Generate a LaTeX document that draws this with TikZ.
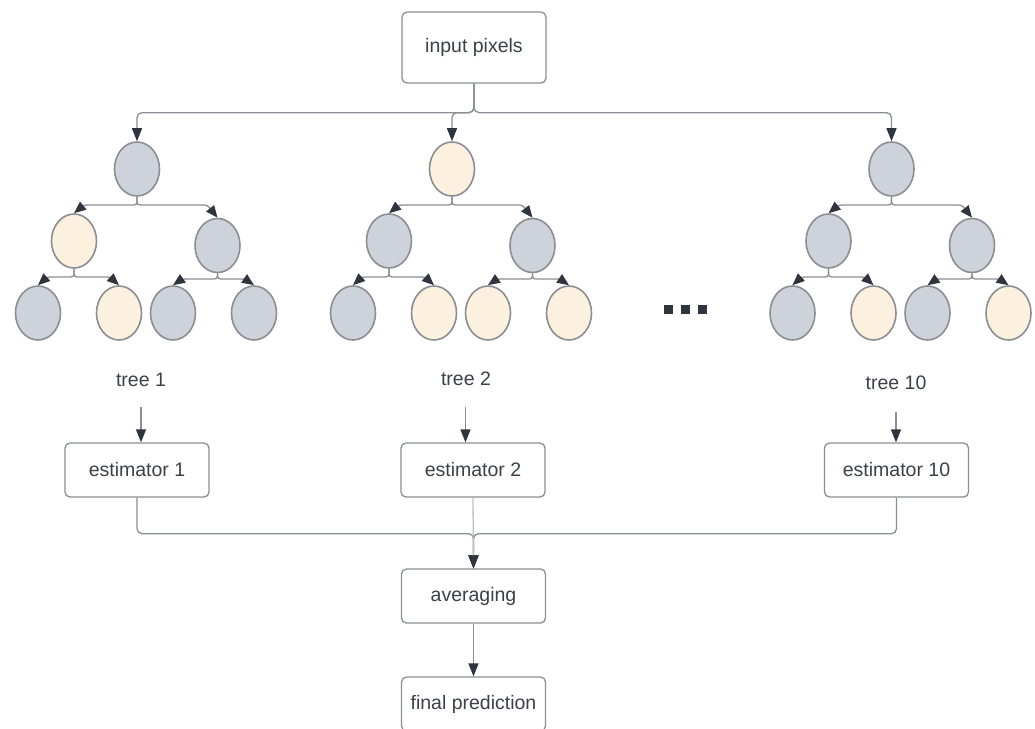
\documentclass[tikz,border=0pt]{standalone}
\usepackage{fontspec}
\setmainfont{Liberation Sans}
\usetikzlibrary{arrows.meta,shapes.geometric,calc}
\definecolor{gfill}{HTML}{CED3DB}
\definecolor{cfill}{HTML}{FCF1DE}
\definecolor{strk}{HTML}{8B8E93}
\definecolor{txt}{HTML}{3C4048}
\definecolor{tipc}{HTML}{2F353F}
\definecolor{light}{HTML}{BFC2C6}
\tikzset{
  leaf/.style={ellipse,draw=strk,line width=1.6pt,minimum width=45pt,minimum height=54pt,inner sep=0pt},
  box/.style={draw=strk,line width=1.3pt,rounded corners=5pt,fill=white,minimum width=144pt,minimum height=54pt,inner sep=0pt,text=txt,font=\fontsize{19.5}{22}\selectfont},
  lbl/.style={text=txt,font=\fontsize{19.5}{22}\selectfont,inner sep=0pt},
  arr/.style={draw=strk,line width=1.3pt,rounded corners=5pt,-{Triangle[length=13pt,width=10pt,color=tipc]}},
  tarr/.style={draw=strk,line width=1.3pt,rounded corners=3pt,-{Triangle[length=12pt,width=10pt,color=tipc]}},
  dot/.style={fill=tipc,minimum size=9pt,inner sep=0pt}
}
\newcommand\mytree[9]{%
  \node[leaf,fill=#3] (#1r) at (#2,169) {};
  \node[leaf,fill=#4] (#1a) at ({#2-63},241) {};
  \node[leaf,fill=#5] (#1b) at ({#2+80.5},245.5) {};
  \node[leaf,fill=#6] (#1c) at ({#2-99},313) {};
  \node[leaf,fill=#7] (#1d) at ({#2-18},313) {};
  \node[leaf,fill=#8] (#1e) at ({#2+36},313) {};
  \node[leaf,fill=#9] (#1f) at ({#2+117},313) {};
  \draw[tarr] (#1r.south) |- ({#2-63+10},205) -- (#1a.north);
  \draw[tarr] (#1r.south) |- ({#2+80.5-10},205) -- (#1b.north);
  \draw[tarr] (#1a.south) |- ({#2-99+9},277) -- (#1c.north);
  \draw[tarr] (#1a.south) |- ({#2-18-9},277) -- (#1d.north);
  \draw[tarr] (#1b.south) |- ({#2+36+9},279) -- (#1e.north);
  \draw[tarr] (#1b.south) |- ({#2+117-9},279) -- (#1f.north);
}
\begin{document}
\begin{tikzpicture}[x=1pt,y=-1pt]
\useasboundingbox (0,0) rectangle (1035,728);
\node[box,minimum height=71pt] (inp) at (474,47.5) {input pixels};
\mytree{ta}{137}{gfill}{cfill}{gfill}{gfill}{cfill}{gfill}{gfill}
\mytree{tb}{452}{cfill}{gfill}{gfill}{gfill}{cfill}{cfill}{cfill}
\mytree{tc}{891.5}{gfill}{gfill}{gfill}{gfill}{cfill}{gfill}{cfill}
\draw[arr] (inp.south) -- ++(0,29) -| (tar.north);
\draw[arr] (inp.south) -- ++(0,29) -| (tbr.north);
\draw[arr] (inp.south) -- ++(0,29) -| (tcr.north);
\node[dot] (d1) at (668,309) {};
\node[dot] (d2) at (685,309) {};
\node[dot] (d3) at (702,309) {};
\node[lbl] (l1) at (141,380) {tree 1};
\node[lbl] (l2) at (466,379) {tree 2};
\node[lbl] (l3) at (896,383) {tree 10};
\node[box] (e1) at (137,470) {estimator 1};
\node[box] (e2) at (473,470) {estimator 2};
\node[box] (e3) at (896.5,470) {estimator 10};
\coordinate (a1) at (141,407);
\coordinate (a2) at (465.5,407);
\coordinate (a3) at (896,412);
\draw[arr] (a1) -- (a1 |- e1.north);
\draw[arr] (a2) -- (a2 |- e2.north);
\draw[arr] (a3) -- (a3 |- e3.north);
\node[box] (avg) at (473.5,596) {averaging};
\node[box] (fin) at (473.5,704) {final prediction};
\draw[arr] (e1.south) -- ++(0,36) -| (avg.north);
\draw[arr] (e3.south) -- ++(0,36) -| (avg.north);
\draw[arr,draw=light] (e2.south) -- (avg.north);
\draw[arr] (avg.south) -- (fin.north);
\end{tikzpicture}
\end{document}
